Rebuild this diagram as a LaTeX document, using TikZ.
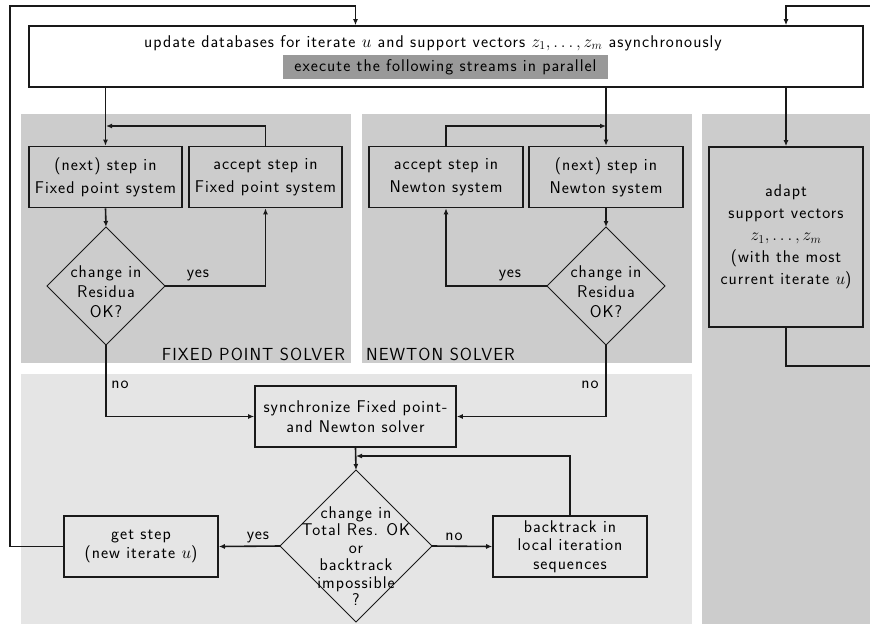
\documentclass[tikz,border=0pt]{standalone}
\usepackage{fontspec}
\setsansfont{Latin Modern Sans}[LetterSpace=6]
\usetikzlibrary{shapes.geometric,arrows.meta}
\begin{document}
\begin{tikzpicture}[x=1pt,y=-1pt,
  line width=1.6pt,
  every node/.style={font=\fontsize{17}{21}\selectfont\sffamily},
  panel/.style={fill=black!20, draw=none},
  lpanel/.style={fill=black!10, draw=none},
  box/.style={draw=black!90, line width=1.6pt, minimum width=153pt, minimum height=61pt, inner sep=0pt, align=center},
  dia/.style={draw=black!90, diamond, line width=1pt, inner sep=0pt, outer sep=0pt},
  dtext/.style={align=center, inner sep=0pt},
  lbl/.style={inner sep=1pt},
  arr/.style={draw=black!90, -{Latex[length=6pt,width=5pt]}},
  conn/.style={draw=black!90}
]
\useasboundingbox (0,0) rectangle (870,624);
% panels
\fill[panel] (21,114) rectangle (351,363);
\fill[panel] (362,114) rectangle (692,363);
\fill[panel] (702,114) rectangle (870,624);
\fill[lpanel] (21,374) rectangle (692,624);

% top box
\node[draw=black!90, minimum width=834pt, minimum height=61pt, inner sep=0pt] (top) at (446,56.5) {};
\node (toptext) at (433,43) {update databases for iterate $u$ and support vectors $z_1,\dots,z_m$ asynchronously};
\node[fill=black!40, minimum width=325pt, minimum height=24pt, inner sep=0pt] (par) at (445.5,67) {execute the following streams in parallel};

% boxes
\node[box, font=\fontsize{17}{23}\selectfont\sffamily] (fpnext) at (105.5,177) {(next) step in\\Fixed point system};
\node[box, font=\fontsize{17}{23}\selectfont\sffamily] (fpacc) at (265.5,177) {accept step in\\Fixed point system};
\node[box, minimum width=154pt, font=\fontsize{17}{23}\selectfont\sffamily] (nacc) at (446,177) {accept step in\\Newton system};
\node[box, minimum width=154pt, font=\fontsize{17}{23}\selectfont\sffamily] (nnext) at (606,177) {(next) step in\\Newton system};
\node[box, minimum width=154pt, minimum height=180pt, font=\fontsize{17}{22}\selectfont\sffamily] (adapt) at (786,237) {adapt\\support vectors\\$z_1,\dots,z_m$\\(with the most\\current iterate $u$)};
\node[box, minimum width=201pt, font=\fontsize{17}{20}\selectfont\sffamily] (sync) at (355.5,416.5) {synchronize Fixed point-\\and Newton solver};
\node[box, minimum width=154pt, font=\fontsize{17}{19.5}\selectfont\sffamily] (getstep) at (141,546.5) {get step\\(new iterate $u$)};
\node[box, minimum width=154pt, font=\fontsize{17}{18.5}\selectfont\sffamily] (back) at (570,546.5) {backtrack in\\local iteration\\sequences};

% diamonds
\node[dia, minimum width=118pt, minimum height=118pt] (fpd) at (106,286) {};
\node[dtext, font=\fontsize{17}{20}\selectfont\sffamily] (fpdt) at (106,292) {change in\\Residua\\OK?};
\node[dia, minimum width=118pt, minimum height=118pt] (nd) at (606,286) {};
\node[dtext, font=\fontsize{17}{20}\selectfont\sffamily] (ndt) at (606,292) {change in\\Residua\\OK?};
\node[dia, minimum width=152pt, minimum height=152pt] (td) at (356,546) {};
\node[dtext, font=\fontsize{17}{17.5}\selectfont\sffamily] (tdt) at (356,556) {change in\\Total Res. OK\\or\\backtrack\\impossible\\?};

% solver labels
\node[anchor=east, font=\fontsize{17.5}{20}\selectfont\sffamily] (fplab) at (349,354) {FIXED POINT SOLVER};
\node[anchor=west, font=\fontsize{17.5}{20}\selectfont\sffamily] (nlab) at (362,354) {NEWTON SOLVER};

% coordinates
\coordinate (fploop) at (106,126);
\coordinate (nloop) at (606,126);
\coordinate (tloop) at (356,456);
\coordinate (cL) at (10,6);
\coordinate (rT) at (875,6);
\coordinate (rB) at (875,366);

% connectors
\draw[arr] (fpnext.north |- top.south) -- (fpnext.north);
\draw[arr] (nnext.north |- top.south) -- (nnext.north);
\draw[arr] (adapt.north |- top.south) -- (adapt.north);
\draw[arr] (fpacc.north) |- (fploop);
\draw[arr] (nacc.north) |- (nloop);
\draw[arr] (fpnext.south) -- (fpd.north);
\draw[arr] (nnext.south) -- (nd.north);
\draw[arr] (fpd.east) -| (fpacc.south);
\draw[arr] (nd.west) -| (nacc.south);
\draw[arr] (fpd.south) |- (sync.west);
\draw[arr] (nd.south) |- (sync.east);
\draw[arr] (sync.south) -- (td.north);
\draw[arr] (back.north) |- (tloop);
\draw[arr] (td.west) -- (getstep.east);
\draw[arr] (td.east) -- (back.west);
\draw[arr] (getstep.west) -| (cL) -| (top.north -| sync);
\draw[conn] (adapt.south) |- (rB);
\draw[arr] (rT) -| (top.north -| adapt);

% edge labels
\node[lbl] (yes1) at (198,275) {yes};
\node[lbl] (yes2) at (510,275) {yes};
\node[lbl] (no1) at (120,385) {no};
\node[lbl] (no2) at (590,385) {no};
\node[lbl] (yes3) at (258,537) {yes};
\node[lbl] (no3) at (454,537) {no};
\end{tikzpicture}
\end{document}
